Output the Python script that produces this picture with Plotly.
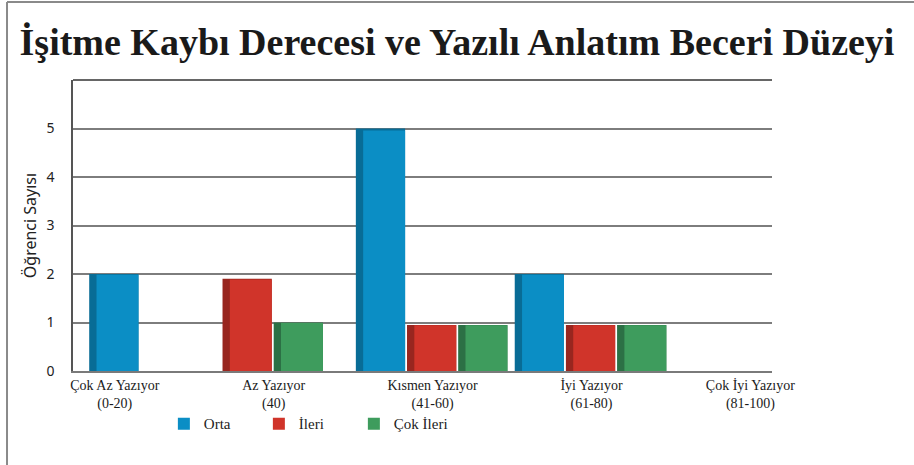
import plotly.graph_objects as go

# ---- data ----
categories = ["Çok Az Yazıyor<br>(0-20)", "Az Yazıyor<br>(40)", "Kısmen Yazıyor<br>(41-60)",
              "İyi Yazıyor<br>(61-80)", "Çok İyi Yazıyor<br>(81-100)"]
series_names = ["Orta", "İleri", "Çok İleri"]
orta = [2, 0, 5, 2, 0]
ileri = [0, 1.9, 0.95, 0.95, 0]
cok_ileri = [0, 1, 0.95, 0.95, 0]
y_tick_vals = [0, 1, 2, 3, 4, 5]

# ---- style ----
face_colors = ["#0b8ec5", "#d0342a", "#3e9c5d"]
side_colors = ["#086c96", "#98261f", "#2c7045"]
slot = 0.322      # width of one bar slot in category units
side = 0.046      # visible dark side face width
gap = 0.012

values = [orta, ileri, cok_ileri]
n_cat = len(categories)

# centre the non-zero bars of every category
offsets = [[0.0] * n_cat for _ in values]
for c in range(n_cat):
    nz = [s for s in range(len(values)) if values[s][c] > 0]
    start = -len(nz) * slot / 2
    for k, s in enumerate(nz):
        offsets[s][c] = start + k * slot

fig = go.Figure()
for s, vals in enumerate(values):
    fig.add_trace(go.Bar(
        x=categories, y=vals, offset=offsets[s], width=slot - gap,
        marker=dict(color=side_colors[s], line=dict(width=0)),
        showlegend=False, hoverinfo="skip"))
for s, vals in enumerate(values):
    fig.add_trace(go.Bar(
        x=categories, y=[v * 0.992 for v in vals],
        offset=[o + side for o in offsets[s]], width=slot - gap - side,
        marker=dict(color=face_colors[s], line=dict(width=0)),
        name=series_names[s]))

fig.update_layout(
    width=914, height=465,
    barmode="overlay",
    paper_bgcolor="white", plot_bgcolor="white",
    margin=dict(l=73, r=142, t=80, b=94),
    title=dict(text="<b>İşitme Kaybı Derecesi ve Yazılı Anlatım Beceri Düzeyi</b>",
               x=0.5, xanchor="center", y=0.91, yanchor="middle",
               font=dict(family="Liberation Serif", size=38, color="#1a1a1a")),
    xaxis=dict(type="category", range=[-0.263, 4.136],
               showgrid=False, showline=True, linecolor="#7a7a7a", linewidth=1.5,
               ticks="", tickfont=dict(family="Liberation Serif", size=14, color="#1a1a1a"),
               fixedrange=True),
    yaxis=dict(range=[0, 6], tickvals=y_tick_vals, showgrid=True,
               gridcolor="#7d7d7d", gridwidth=1.5, zeroline=False,
               showline=True, linecolor="#555", linewidth=1.5,
               ticks="", ticklabelstandoff=14,
               tickfont=dict(family="Noto Sans", size=14, color="#222"),
               title=dict(text="Öğrenci Sayısı", standoff=6,
                          font=dict(family="Noto Sans", size=16, color="#222"))),
    legend=dict(orientation="h", x=0.13, xanchor="left", y=-0.125, yanchor="top",
                bgcolor="rgba(0,0,0,0)",
                traceorder="normal", entrywidth=50, entrywidthmode="pixels",
                font=dict(family="Liberation Serif", size=15, color="#222"),
                itemsizing="constant"),
    shapes=[
        dict(type="line", xref="paper", yref="paper", x0=0, x1=1, y0=1, y1=1,
             line=dict(color="#333", width=1.5)),
        dict(type="line", xref="paper", yref="paper", x0=-0.0944, x1=1.21, y0=1.268, y1=1.268,
             line=dict(color="#8a8a8a", width=2)),
        dict(type="line", xref="paper", yref="paper", x0=-0.0944, x1=-0.0944, y0=1.268, y1=-0.33,
             line=dict(color="#8a8a8a", width=2)),
    ],
)

fig.write_html("out.html", config={"displayModeBar": False},
               post_script="document.body.style.margin='0';")
